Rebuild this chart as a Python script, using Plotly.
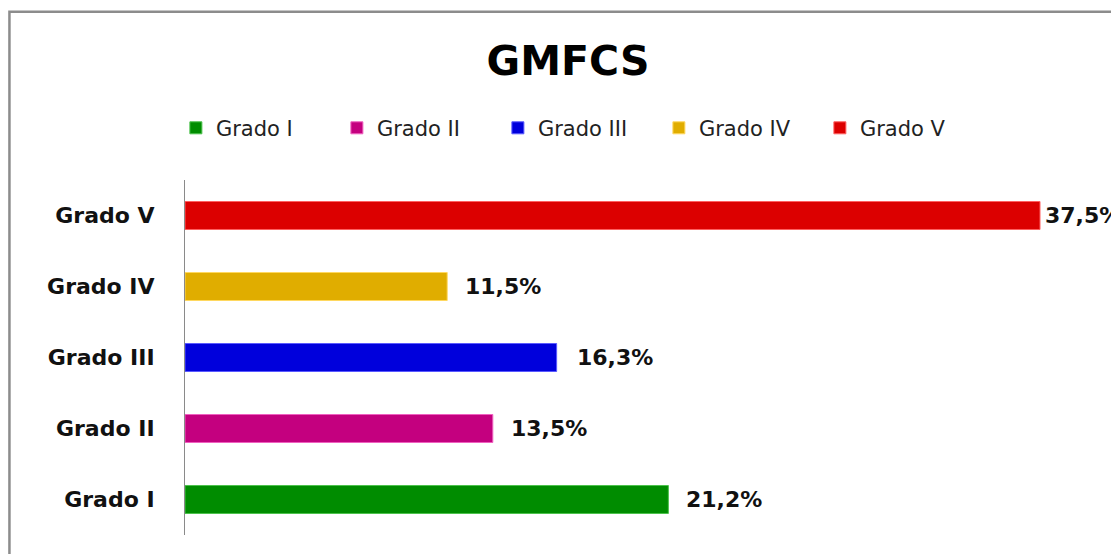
import plotly.graph_objects as go

categories = ["Grado I", "Grado II", "Grado III", "Grado IV", "Grado V"]
values = [21.2, 13.5, 16.3, 11.5, 37.5]
value_labels = ["21,2%", "13,5%", "16,3%", "11,5%", "37,5%"]
bar_colors = ["#008c00", "#c4007f", "#0000dc", "#e0ad00", "#dc0000"]
edge_colors = ["#4cc24c", "#f060c0", "#5a5aff", "#ffd860", "#ff6060"]
label_shift = [16, 16, 18, 16, 3]

FONT = "DejaVu Sans"

fig = go.Figure()
for cat, val, col, edge in zip(categories, values, bar_colors, edge_colors):
    fig.add_trace(go.Bar(
        y=[cat], x=[val], name=cat, orientation="h",
        width=0.394,
        marker=dict(color=col, line=dict(color=edge, width=1)),
        hoverinfo="skip",
    ))

for cat, val, lab, sh in zip(categories, values, value_labels, label_shift):
    fig.add_annotation(
        x=val, y=cat, xref="x", yref="y", text="<b>" + lab + "</b>",
        showarrow=False, xanchor="left", yanchor="middle", xshift=sh,
        font=dict(family=FONT, size=22, color="#111111"),
    )

# outer chart frame
fig.add_shape(type="rect", xref="paper", yref="paper",
              x0=-0.1925, x1=1.2, y0=-0.2, y1=1.474,
              line=dict(color="#8c8c8c", width=2.5), fillcolor="rgba(0,0,0,0)",
              layer="below")

fig.update_layout(
    width=1119, height=554,
    margin=dict(l=177, r=30, t=172, b=27),
    paper_bgcolor="white", plot_bgcolor="white",
    barmode="overlay",
    showlegend=True,
    title=dict(text="<b>GMFCS</b>", x=560 / 1119, xref="container", xanchor="center",
               y=1 - 53 / 554, yref="container", yanchor="middle",
               font=dict(family=FONT, size=41, color="#000000")),
    legend=dict(orientation="h", x=-0.01, xanchor="left", y=1.146, yanchor="middle",
                traceorder="normal", font=dict(family=FONT, size=21, color="#222222"),
                entrywidth=116, entrywidthmode="pixels",
                bgcolor="rgba(0,0,0,0)", borderwidth=0),
    xaxis=dict(range=[0, 40], visible=False, showgrid=False, zeroline=False),
    yaxis=dict(type="category", categoryorder="array", categoryarray=categories,
               range=[-0.5, 4.5], showline=True, linecolor="#8a8a8a", linewidth=1,
               showgrid=False, zeroline=False, ticks="", ticklabelstandoff=25,
               tickfont=dict(family=FONT, size=22, color="#111111"),
               tickprefix="<b>", ticksuffix="</b>"),
)

fig.write_html("out.html")
